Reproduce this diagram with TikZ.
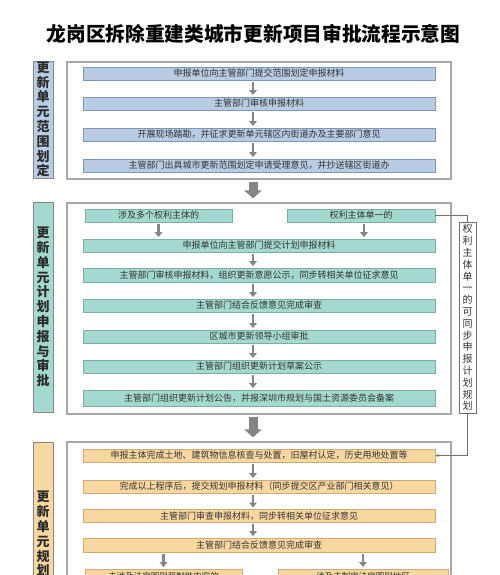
\documentclass[tikz,border=0pt]{standalone}
\usepackage{fontspec}
\setmainfont{Noto Sans CJK SC}
\usetikzlibrary{arrows.meta}
\definecolor{txt}{HTML}{333333}
\definecolor{bluefill}{HTML}{B8CCE4}
\definecolor{blueline}{HTML}{8196B4}
\definecolor{tealfill}{HTML}{A3D9CF}
\definecolor{tealline}{HTML}{7AAEA5}
\definecolor{orfill}{HTML}{F9D7A1}
\definecolor{orline}{HTML}{CFAA72}
\definecolor{frameline}{HTML}{A8A8A8}
\definecolor{arrowgray}{HTML}{858585}
\begin{document}
\begin{tikzpicture}[x=1pt,y=-1pt,
  box/.style={draw, line width=0.8pt, inner sep=0pt, text=txt, font=\fontsize{9}{10}\selectfont},
  bluebox/.style={box, fill=bluefill, draw=blueline},
  tealbox/.style={box, fill=tealfill, draw=tealline},
  orbox/.style={box, fill=orfill, draw=orline},
  framebox/.style={draw=frameline, line width=1.2pt, fill=white, inner sep=0pt},
  sidelabel/.style={draw=frameline!80!black, line width=0.8pt, inner sep=0pt, text=txt!85!black, align=center, font=\bfseries\fontsize{13}{14.8}\selectfont},
  smallarrow/.style={draw=arrowgray, line width=2.4pt, -{Triangle[width=7.5pt,length=5pt]}, shorten <=1.5pt, shorten >=1.5pt},
  bigarrow/.style={draw=arrowgray, line width=9pt, -{Triangle[width=17pt,length=8pt]}, shorten <=2pt, shorten >=4pt},
  conn/.style={draw=txt!70, line width=0.8pt}
]
\useasboundingbox (0,0) rectangle (500,575);
\clip (0,0) rectangle (500,575);
\fill[white] (0,0) rectangle (500,575);

% title
\node[text=black, font=\bfseries\fontsize{19.7}{22}\selectfont] (title) at (253.5,34) {龙岗区拆除重建类城市更新项目审批流程示意图};

% ---------- section 1 ----------
\node[framebox, minimum width=384pt, minimum height=117pt] (f1) at (259,120.5) {};
\node[sidelabel, fill=bluefill, minimum width=20pt, minimum height=117pt] (L1) at (43,119.5) {更\\新\\单\\元\\范\\围\\划\\定};
\node[bluebox, minimum width=352pt, minimum height=13pt] (s1a) at (259,73.5) {申报单位向主管部门提交范围划定申报材料};
\node[bluebox, minimum width=352pt, minimum height=13pt] (s1b) at (259,103.5) {主管部门审核申报材料};
\node[bluebox, minimum width=352pt, minimum height=13pt] (s1c) at (259,134.5) {开展现场踏勘，并征求更新单元辖区内街道办及主要部门意见};
\node[bluebox, minimum width=352pt, minimum height=13pt] (s1d) at (259,165.5) {主管部门出具城市更新范围划定申请受理意见，并抄送辖区街道办};
\draw[smallarrow] ([xshift=-6pt]s1a.south) -- ([xshift=-6pt]s1b.north);
\draw[smallarrow] ([xshift=-6pt]s1b.south) -- ([xshift=-6pt]s1c.north);
\draw[smallarrow] ([xshift=-6pt]s1c.south) -- ([xshift=-6pt]s1d.north);

% ---------- section 2 ----------
\node[framebox, minimum width=384pt, minimum height=211pt] (f2) at (259,308.5) {};
\node[sidelabel, fill=tealfill, minimum width=20pt, minimum height=210pt] (L2) at (43,307) {更\\新\\单\\元\\计\\划\\申\\报\\与\\审\\批};
\node[tealbox, minimum width=147pt, minimum height=13pt] (t2L) at (158.5,215.5) {涉及多个权利主体的};
\node[tealbox, minimum width=148pt, minimum height=13pt] (t2R) at (361,215.5) {权利主体单一的};
\node[tealbox, minimum width=352pt, minimum height=13pt] (s2a) at (259,245.5) {申报单位向主管部门提交计划申报材料};
\node[tealbox, minimum width=352pt, minimum height=14pt] (s2b) at (259,275) {主管部门审核申报材料，组织更新意愿公示，同步转相关单位征求意见};
\node[tealbox, minimum width=352pt, minimum height=13pt] (s2c) at (259,305.5) {主管部门结合反馈意见完成审查};
\node[tealbox, minimum width=352pt, minimum height=13pt] (s2d) at (259,336.5) {区城市更新领导小组审批};
\node[tealbox, minimum width=352pt, minimum height=13pt] (s2e) at (259,366.5) {主管部门组织更新计划草案公示};
\node[tealbox, minimum width=352pt, minimum height=16pt] (s2f) at (259,398) {主管部门组织更新计划公告，并报深圳市规划与国土资源委员会备案};
\draw[smallarrow] (t2L.south) -- (t2L.south |- s2a.north);
\draw[smallarrow] ([xshift=3pt]t2R.south) -- ([xshift=3pt]t2R.south |- s2a.north);
\draw[smallarrow] ([xshift=-6pt]s2a.south) -- ([xshift=-6pt]s2b.north);
\draw[smallarrow] ([xshift=-6pt]s2b.south) -- ([xshift=-6pt]s2c.north);
\draw[smallarrow] ([xshift=-6pt]s2c.south) -- ([xshift=-6pt]s2d.north);
\draw[smallarrow] ([xshift=-6pt]s2d.south) -- ([xshift=-6pt]s2e.north);
\draw[smallarrow] ([xshift=-6pt]s2e.south) -- ([xshift=-6pt]s2f.north);

% side note
\node[draw=txt!70, line width=0.8pt, fill=white, inner sep=0pt, minimum width=17pt, minimum height=191pt, align=center, text=txt, font=\fontsize{10}{11.8}\selectfont] (V) at (467.5,317.5) {权\\利\\主\\体\\单\\一\\的\\可\\同\\步\\申\\报\\计\\划\\规\\划};

% ---------- section 3 ----------
\node[framebox, minimum width=384pt, minimum height=218pt] (f3) at (259,551) {};
\node[sidelabel, fill=orfill, minimum width=20pt, minimum height=214pt] (L3) at (43,549) {更\\新\\单\\元\\规\\划\\审\\批};
\node[orbox, minimum width=352pt, minimum height=13pt] (s3a) at (259,455.5) {申报主体完成土地、建筑物信息核查与处置，旧屋村认定，历史用地处置等};
\node[orbox, minimum width=352pt, minimum height=13pt] (s3b) at (259,486.5) {完成以上程序后，提交规划申报材料（同步提交区产业部门相关意见）};
\node[orbox, minimum width=352pt, minimum height=13pt] (s3c) at (259,516) {主管部门审查申报材料，同步转相关单位征求意见};
\node[orbox, minimum width=352pt, minimum height=14pt] (s3d) at (259,545) {主管部门结合反馈意见完成审查};
\node[orbox, minimum width=157pt, minimum height=14pt, font=\fontsize{8.5}{9.5}\selectfont] (b3L) at (163.5,576) {未涉及法定图则强制性内容的};
\node[orbox, minimum width=170pt, minimum height=14pt, font=\fontsize{8.5}{9.5}\selectfont] (b3R) at (363,576) {涉及未制定法定图则地区};
\draw[smallarrow] ([xshift=-6pt]s3a.south) -- ([xshift=-6pt]s3b.north);
\draw[smallarrow] ([xshift=-6pt]s3b.south) -- ([xshift=-6pt]s3c.north);
\draw[smallarrow] ([xshift=-6pt]s3c.south) -- ([xshift=-6pt]s3d.north);
\draw[smallarrow] (b3L.north |- s3d.south) -- (b3L.north);
\draw[smallarrow] (b3R.north |- s3d.south) -- (b3R.north);

% big arrows between sections
\draw[bigarrow] ([xshift=-6pt]f1.south) -- ([xshift=-6pt]f2.north);
\draw[bigarrow] ([xshift=-6pt]f2.south) -- ([xshift=-6pt]f3.north);

% connector for single right-holder path
\draw[conn] (t2R.east) -| (V.north);
\draw[conn, -{Stealth[length=3.5pt,width=3pt]}] (V.south) |- (s3a.east);
\end{tikzpicture}
\end{document}
